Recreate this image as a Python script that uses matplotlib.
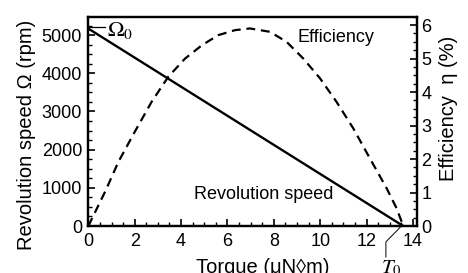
import matplotlib.pyplot as plt
from matplotlib.ticker import MultipleLocator

plt.rcParams["font.family"] = ["Liberation Sans", "DejaVu Sans"]
plt.rcParams["mathtext.fontset"] = "stix"

# values
speed_torque = [0.0, 13.58]         # uN m
speed_rpm = [5170, 0]               # rpm
omega0 = 5216
stall_torque = 13.58

eff_torque = [0, 0.72, 1.3, 2.0, 2.73, 3.45, 4.17, 4.9, 5.6, 6.33, 6.97, 7.83,
              8.55, 9.27, 9.99, 10.7, 11.42, 12.14, 12.86, 13.29, 13.58]
eff_pct = [0, 1.02, 1.92, 2.81, 3.71, 4.46, 5.0, 5.40, 5.70, 5.85, 5.90, 5.80,
           5.50, 5.0, 4.41, 3.71, 2.92, 2.02, 1.13, 0.53, 0]

fig = plt.figure(figsize=(4.68, 2.73), dpi=100)
ax = fig.add_axes([0.1887, 0.172, 0.7023, 0.7667])
ax2 = ax.twinx()

ax.plot(speed_torque, speed_rpm, color="black", lw=1.7)
ax2.plot(eff_torque, eff_pct, color="black", lw=1.6, ls=(0, (4, 2.6)))

ax.set_xlim(0, 14.17)
ax.set_ylim(0, 5480)
ax2.set_ylim(0, 6.25)

ax.xaxis.set_major_locator(MultipleLocator(2))
ax.xaxis.set_minor_locator(MultipleLocator(0.5))
ax.yaxis.set_major_locator(MultipleLocator(1000))
ax.yaxis.set_minor_locator(MultipleLocator(250))
ax2.yaxis.set_major_locator(MultipleLocator(1))
ax2.yaxis.set_minor_locator(MultipleLocator(0.25))

for a in (ax, ax2):
    a.tick_params(which="major", direction="in", length=5, width=1.2, labelsize=13)
    a.tick_params(which="minor", direction="in", length=2.7, width=1.0)
    for s in a.spines.values():
        s.set_linewidth(1.6)
ax.tick_params(axis="x", which="both", top=False, pad=5)
ax.tick_params(axis="y", pad=4.5)
ax2.tick_params(axis="y", pad=3)

ax.set_xlabel("Torque (\u03bcN\u25cam)", fontsize=14.5)
ax.xaxis.set_label_coords(0.531, -0.155)
ax.set_ylabel("Revolution speed \u03a9 (rpm)", fontsize=14.5)
ax.yaxis.set_label_coords(-0.16, 0.435)
ax2.set_ylabel("Efficiency  \u03b7 (%)", fontsize=14.5)
ax2.yaxis.set_label_coords(1.068, 0.56)

# Omega_0 marker
ax.plot([0, 0.72], [omega0, omega0], color="black", lw=0.9, clip_on=False)
ax.text(0.8, 4987, r"$\Omega_0$", fontsize=16, va="baseline", ha="left")

# T_0 marker
ax.plot([13.5, 12.83, 12.83], [0, -414, -810], color="black", lw=0.7, clip_on=False)
ax.text(13.05, -1108, r"$T_0$", fontsize=15, ha="center", va="center")

ax.text(10.68, 4934, "Efficiency", fontsize=13, ha="center", va="center")
ax.text(7.57, 818, "Revolution speed", fontsize=13, ha="center", va="center")

fig.savefig("out.png", dpi=100)
